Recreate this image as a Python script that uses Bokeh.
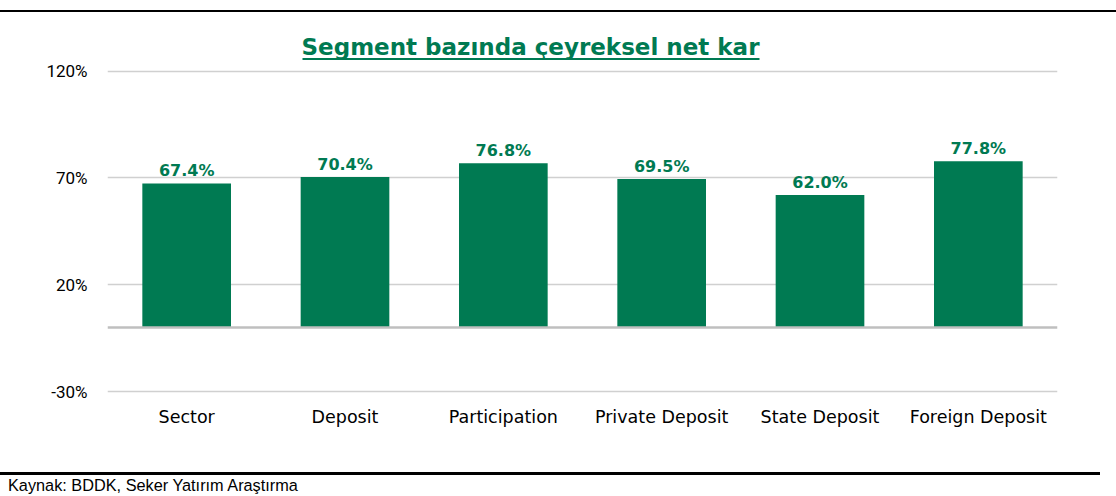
from bokeh.plotting import figure
from bokeh.models import (FixedTicker, PrintfTickFormatter, Span, FactorRange,
                          Range1d, ColumnDataSource, Div)
from bokeh.layouts import column
from bokeh.core.properties import value
from bokeh.embed import file_html
from bokeh.resources import INLINE

categories = ["Sector", "Deposit", "Participation", "Private Deposit", "State Deposit", "Foreign Deposit"]
values = [67.4, 70.4, 76.8, 69.5, 62.0, 77.8]
labels = ["67.4%", "70.4%", "76.8%", "69.5%", "62.0%", "77.8%"]
y_ticks = [-30, 20, 70, 120]
title_text = "Segment bazında çeyreksel net kar"
source_text = "Kaynak: BDDK, Seker Yatırım Araştırma"

GREEN = "#007A52"
W = 1116
H = 457

# ---- main chart geometry (pixels inside the main figure) ----
FR_LEFT, FR_RIGHT = 107, 1057
PX_PER_CAT = (FR_RIGHT - FR_LEFT) / 6.0
PX_PER_PCT = (379 - 58.5) / 150.0   # 120% at y=58.5, -30% at y=379


def ydata(fig_y):
    return 120 + (58.5 - fig_y) / PX_PER_PCT


def xdata(fig_x):
    return (fig_x - FR_LEFT) / PX_PER_CAT


src = ColumnDataSource(dict(cat=categories, val=values, lab=labels))

p = figure(width=W, height=H, output_backend="svg", toolbar_location=None,
           x_range=FactorRange(factors=categories, range_padding=0),
           y_range=Range1d(ydata(381), ydata(18)),
           min_border_left=FR_LEFT, min_border_right=W - FR_RIGHT,
           min_border_top=18, min_border_bottom=H - 381)
p.outline_line_color = None
p.background_fill_color = "white"
p.border_fill_color = "white"

p.vbar(x="cat", top="val", width=0.56, source=src, color=GREEN, line_color=None)
p.text(x="cat", y="val", text="lab", source=src, text_align="center", text_baseline="middle",
       y_offset=-12.5, text_color=GREEN, text_font=value("DejaVu Sans"), text_font_style="bold",
       text_font_size="16px")

# title with underline
p.text(x=[xdata(530)], y=[ydata(34)], text=[title_text], text_align="center", text_baseline="middle",
       text_color=GREEN, text_font=value("DejaVu Sans"), text_font_style="bold",
       text_font_size="23px")
p.segment(x0=[xdata(302)], x1=[xdata(759)], y0=[ydata(46.5)], y1=[ydata(46.5)],
          line_color=GREEN, line_width=2)

p.add_layout(Span(location=0, dimension="width", line_color="#bfbfbf", line_width=2.5))

p.yaxis.ticker = FixedTicker(ticks=y_ticks)
p.yaxis.formatter = PrintfTickFormatter(format="%d%%")
p.yaxis.axis_line_color = None
p.yaxis.major_tick_line_color = None
p.yaxis.minor_tick_line_color = None
p.yaxis.major_tick_out = 0
p.yaxis.major_tick_in = 0
p.yaxis.major_label_standoff = 20
p.yaxis.major_label_text_font = "Roboto"
p.yaxis.major_label_text_font_size = "17px"
p.yaxis.major_label_text_color = "#000000"

p.xaxis.axis_line_color = None
p.xaxis.major_tick_line_color = None
p.xaxis.minor_tick_line_color = None
p.xaxis.major_tick_out = 0
p.xaxis.major_tick_in = 0
p.xaxis.major_label_standoff = 13
p.xaxis.major_label_text_font = "DejaVu Sans"
p.xaxis.major_label_text_font_size = "17.5px"
p.xaxis.major_label_text_color = "#000000"

p.xgrid.visible = False
p.ygrid.ticker = FixedTicker(ticks=y_ticks)
p.ygrid.grid_line_color = "#d0d0d0"
p.ygrid.grid_line_width = 1.5

# ---- rules and source note ----
top_rule = Div(text="", width=W, height=2, margin=(10, 0, 0, 0),
               styles={"background-color": "#000000"})
bottom_rule = Div(text="", width=1100, height=3, margin=(3, 0, 0, 0),
                  styles={"background-color": "#000000"})
source = Div(text=source_text, width=W, height=19, margin=(2, 0, 0, 8),
             styles={"font-family": "'Liberation Sans', Arial, sans-serif", "font-size": "16.3px",
                     "line-height": "17px", "color": "#000000", "white-space": "nowrap"})

layout = column(top_rule, p, bottom_rule, source, spacing=0)
open("out.html", "w").write(file_html(layout, INLINE))
